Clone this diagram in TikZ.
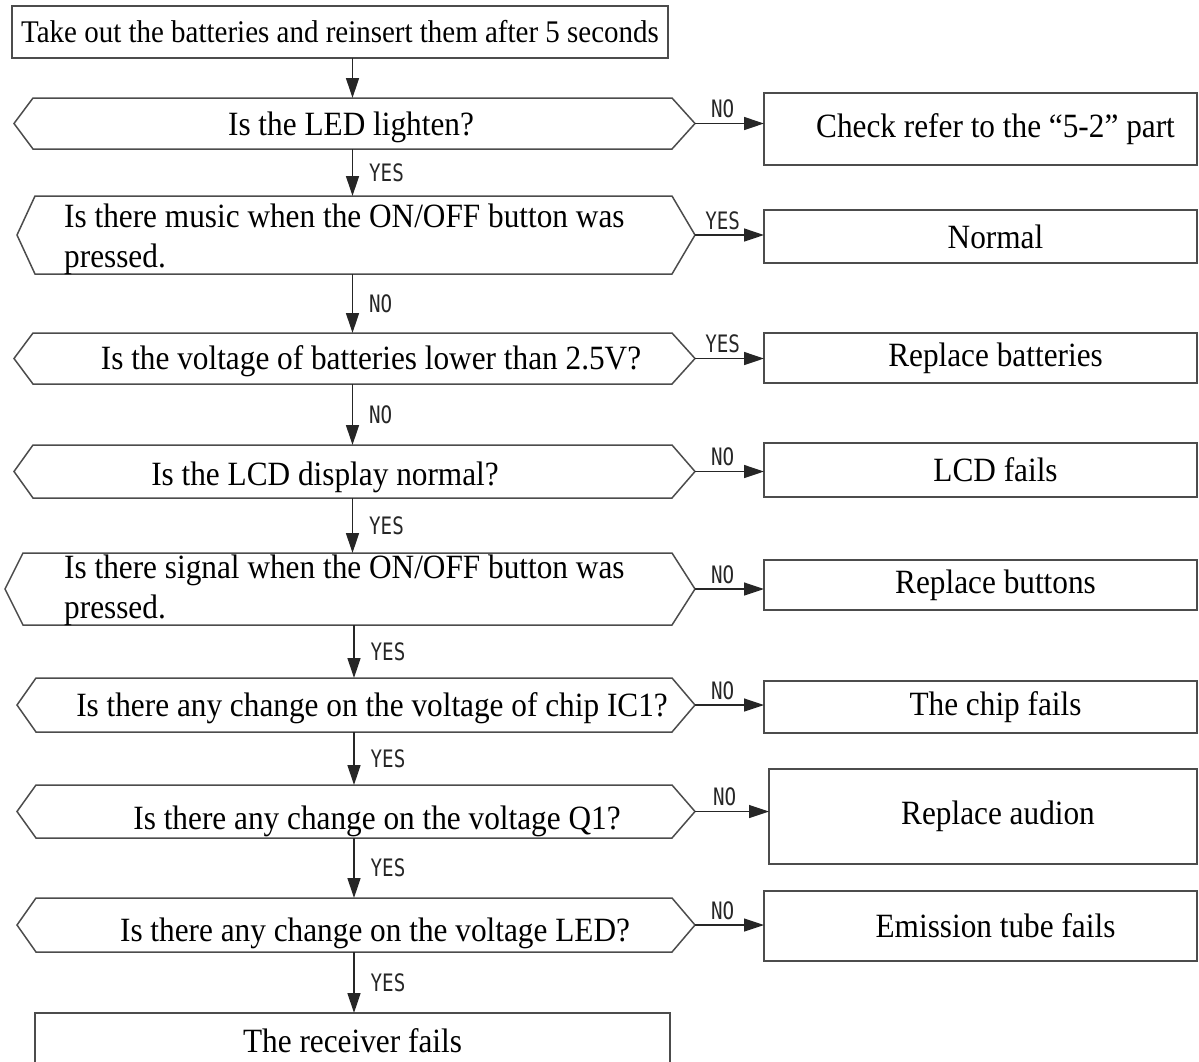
\documentclass[tikz,border=0pt]{standalone}
\usepackage{fontspec}
\setmainfont{Liberation Serif}[FakeStretch=0.92]
\newfontfamily\lblfont{DejaVu Sans Mono}[FakeStretch=0.8]
\usetikzlibrary{arrows.meta}
\usetikzlibrary{positioning}

\begin{document}
\begin{tikzpicture}[x=1pt,y=-1pt,
  qbody/.style={rectangle, inner sep=0pt, outer sep=0pt},
  hexline/.style={draw=black!70, line width=1.5pt, line join=miter},
  rbox/.style={rectangle, draw=black!70, line width=1.5pt, inner sep=0pt, outer sep=0pt,
    font=\fontsize{34}{38}\selectfont},
  rres/.style={rbox, execute at begin node=\hspace*{30pt}},
  qtext/.style={inner sep=0pt, font=\fontsize{34}{40}\selectfont},
  arr/.style={-{Triangle[length=20pt,width=13pt]}, line width=1.3pt, black!85},
  lbl/.style={inner sep=2pt, text=black!85, font=\lblfont\fontsize{24}{24}\selectfont}]

\useasboundingbox (0,0) rectangle (1199,1061);
\clip (0,0) rectangle (1199,1061);

% start
\node[rbox, minimum width=656, minimum height=52, font=\fontsize{31.5}{34}\selectfont] (t0) at (340,32)
  {Take out the batteries and reinsert them after 5 seconds};

% question bodies
\node[qbody, minimum width=639, minimum height=51] (q1) at (352.5,123.5) {};
\node[qbody, minimum width=637, minimum height=78] (q2) at (353.5,235) {};
\node[qbody, minimum width=639, minimum height=51] (q3) at (352.5,358.5) {};
\node[qbody, minimum width=639, minimum height=53] (q4) at (352.5,471.5) {};
\node[qbody, minimum width=649, minimum height=72] (q5) at (347.5,589) {};
\node[qbody, minimum width=636, minimum height=54] (q6) at (354,705) {};
\node[qbody, minimum width=636, minimum height=53] (q7) at (354,811.5) {};
\node[qbody, minimum width=636, minimum height=54] (q8) at (354,925) {};

\foreach \n/\l in {q1/19,q2/18,q3/19,q4/19,q5/18,q6/19,q7/19,q8/19}{
  \draw[hexline] (\n.north west) -- (\n.north east) -- ([xshift=23]\n.east) -- (\n.south east)
    -- (\n.south west) -- ([xshift=-\l]\n.west) -- cycle;
  \coordinate (\n-tip) at ([xshift=23]\n.east);
}

% question texts
\node[qtext, anchor=base] (q1t) at (351,135) {Is the LED lighten?};
\node[qtext, anchor=west, align=left] (q2t) at (64,239) {Is there music when the ON/OFF button was\\pressed.};
\node[qtext, anchor=base] (q3t) at (371,369) {Is the voltage of batteries lower than 2.5V?};
\node[qtext, anchor=base] (q4t) at (325,485) {Is the LCD display normal?};
\node[qtext, anchor=west, align=left] (q5t) at (64,590) {Is there signal when the ON/OFF button was\\pressed.};
\node[qtext, anchor=base] (q6t) at (372,716) {Is there any change on the voltage of chip IC1?};
\node[qtext, anchor=base] (q7t) at (377,829) {Is there any change on the voltage Q1?};
\node[qtext, anchor=base] (q8t) at (375,941) {Is there any change on the voltage LED?};

% results
\node[rres, minimum width=433, minimum height=72] (r1) at (980.5,129) {Check refer to the \textquotedblleft5-2\textquotedblright\ part};
\node[rres, minimum width=433, minimum height=53] (r2) at (980.5,236.5) {Normal};
\node[rres, minimum width=433, minimum height=50] (r3) at (980.5,358) {Replace batteries};
\node[rres, minimum width=433, minimum height=54] (r4) at (980.5,470) {LCD fails};
\node[rres, minimum width=433, minimum height=50] (r5) at (980.5,585) {Replace buttons};
\node[rres, minimum width=433, minimum height=52] (r6) at (980.5,707) {The chip fails};
\node[rres, minimum width=428, minimum height=95] (r7) at (983,816.5) {Replace audion};
\node[rres, minimum width=433, minimum height=70] (r8) at (980.5,926) {Emission tube fails};
\node[rbox, minimum width=635, minimum height=56] (rcv) at (352.5,1041) {The receiver fails};

% down the chain
\draw[arr] (q1.north |- t0.south) -- (q1.north);
\draw[arr] (q1.south) -- (q1.south |- q2.north) node[lbl, midway, right=14pt] {YES};
\draw[arr] (q3.north |- q2.south) -- (q3.north) node[lbl, midway, right=14pt] {NO};
\draw[arr] (q3.south) -- (q4.north) node[lbl, midway, right=14pt] {NO};
\draw[arr] (q4.south) -- (q4.south |- q5.north) node[lbl, midway, right=14pt] {YES};
\draw[arr] (q6.north |- q5.south) -- (q6.north) node[lbl, midway, right=14pt] {YES};
\draw[arr] (q6.south) -- (q7.north) node[lbl, midway, right=14pt] {YES};
\draw[arr] (q7.south) -- (q8.north) node[lbl, midway, right=14pt] {YES};
\draw[arr] (q8.south) -- (q8.south |- rcv.north) node[lbl, midway, right=14pt] {YES};

% side exits
\draw[arr] (q1-tip) -- (q1-tip -| r1.west) node[lbl, pos=0.4, above=3pt] {NO};
\draw[arr] (q2-tip) -- (q2-tip -| r2.west) node[lbl, pos=0.4, above=3pt] {YES};
\draw[arr] (q3-tip) -- (q3-tip -| r3.west) node[lbl, pos=0.4, above=3pt] {YES};
\draw[arr] (q4-tip) -- (q4-tip -| r4.west) node[lbl, pos=0.4, above=3pt] {NO};
\draw[arr] (q5-tip) -- (q5-tip -| r5.west) node[lbl, pos=0.4, above=3pt] {NO};
\draw[arr] (q6-tip) -- (q6-tip -| r6.west) node[lbl, pos=0.4, above=3pt] {NO};
\draw[arr] (q7-tip) -- (q7-tip -| r7.west) node[lbl, pos=0.4, above=3pt] {NO};
\draw[arr] (q8-tip) -- (q8-tip -| r8.west) node[lbl, pos=0.4, above=3pt] {NO};

\end{tikzpicture}
\end{document}
